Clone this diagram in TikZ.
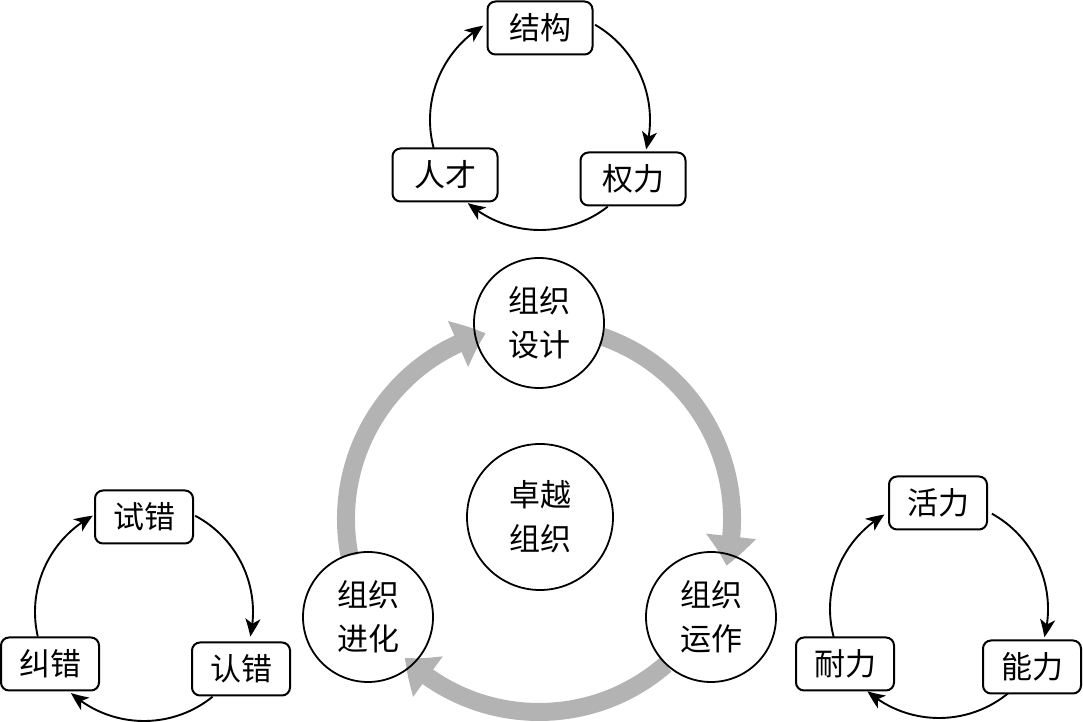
\documentclass[tikz,border=0pt]{standalone}
\usepackage{fontspec}
\setmainfont{Noto Sans CJK SC}
\usetikzlibrary{arrows.meta,bending}
\definecolor{ringgray}{HTML}{B3B3B3}
\pgfdeclarelayer{bg}
\pgfsetlayers{bg,main}
\begin{document}
\begin{tikzpicture}[x=1pt,y=1pt,
  box/.style={draw, fill=white, line width=2pt, rounded corners=8pt, minimum width=98pt, minimum height=53pt, inner sep=0pt, font=\fontsize{31}{38}\selectfont},
  topbox/.style={box, minimum width=105pt},
  circ/.style={circle, draw, line width=1.8pt, minimum size=130pt, inner sep=0pt, align=center, font=\fontsize{31}{44}\selectfont},
  cyc/.style={line width=1.9pt, -{Stealth[length=18pt,width=15pt,inset=5pt,bend]}},
  ringarrow/.style={line width=18pt, draw=ringgray, -{Triangle[length=30pt,width=48pt,bend]}}]
\useasboundingbox (0,0) rectangle (1083,722);
% centres
\coordinate (ctop) at (540,602);
\coordinate (cleft) at (144,110);
\coordinate (cright) at (939,113);
\coordinate (cring) at (539,203);
% top cycle
\node[topbox] (jiegou) at (540,694) {结构};
\node[topbox] (quanli) at (633,543) {权力};
\node[topbox] (rencai) at (445,547) {人才};
% left cycle
\node[box] (shicuo) at (144,205) {试错};
\node[box] (rencuo) at (241,53) {认错};
\node[box] (jiucuo) at (50,58) {纠错};
% right cycle
\node[box] (huoli) at (938,219) {活力};
\node[box] (nengli) at (1032,55) {能力};
\node[box] (naili) at (845,58) {耐力};
% centre
\node[circ] (sheji) at (539,399) {组织\\设计};
\node[circ] (yunzuo) at (711,105) {组织\\运作};
\node[circ] (jinhua) at (368,105) {组织\\进化};
\node[circ, minimum size=146pt] (zhuoyue) at (540,205) {卓越\\组织};
\begin{pgfonlayer}{bg}
\draw[cyc] (ctop) ++(195:110) arc[start angle=195, end angle=121, radius=110];
\draw[cyc] (ctop) ++(60:110) arc[start angle=60, end angle=-15.5, radius=110];
\draw[cyc] (ctop) ++(-52:110) arc[start angle=-52, end angle=-131, radius=110];
\draw[cyc] (cleft) ++(193:109) arc[start angle=193, end angle=118, radius=109];
\draw[cyc] (cleft) ++(62:109) arc[start angle=62, end angle=-13, radius=109];
\draw[cyc] (cleft) ++(-51:109) arc[start angle=-51, end angle=-132, radius=109];
\draw[cyc] (cright) ++(195:109) arc[start angle=195, end angle=120, radius=109];
\draw[cyc] (cright) ++(61:109) arc[start angle=61, end angle=-15, radius=109];
\draw[cyc] (cright) ++(-50:109) arc[start angle=-50, end angle=-131, radius=109];
\draw[ringarrow] (cring) ++(71:193) arc[start angle=71, end angle=-14, radius=193];
\draw[ringarrow] (cring) ++(-49:193) arc[start angle=-49, end angle=-134, radius=193];
\draw[ringarrow] (cring) ++(191:193) arc[start angle=191, end angle=106, radius=193];
\end{pgfonlayer}
\end{tikzpicture}
\end{document}
